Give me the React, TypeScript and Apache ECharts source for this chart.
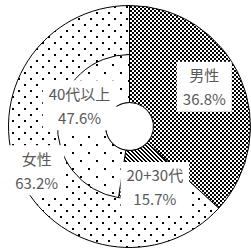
import React, { useEffect, useRef } from "react";
import * as echarts from "echarts";

// ---- data ----
const genders = ["男性", "女性"];
const genderShares = [36.8, 63.2];
const femaleAgeGroups = ["20+30代", "40代以上"];
const femaleAgeShares = [15.7, 47.6];

// label nudges (dx, dy) from the default inside positions
const outerNudges = [
  [5.7, -9.3],
  [-23.7, 13.3],
];
const innerNudges = [
  [0, 0],
  [8.4, 12.4],
  [0.9, -17.3],
];

function makeTile(w: number, h: number, draw: (ctx: CanvasRenderingContext2D) => void) {
  const c = document.createElement("canvas");
  c.width = w;
  c.height = h;
  const ctx = c.getContext("2d")!;
  ctx.fillStyle = "#fff";
  ctx.fillRect(0, 0, w, h);
  ctx.fillStyle = "#000";
  draw(ctx);
  return c;
}

function patterns() {
  const checker = makeTile(4, 4, (ctx) => {
    ctx.fillRect(0, 0, 2, 2);
    ctx.fillRect(2, 2, 2, 2);
  });
  const denseDots = makeTile(12, 12, (ctx) => {
    ctx.fillRect(0, 0, 2, 2);
    ctx.fillRect(6, 6, 2, 2);
  });
  const sparseDots = makeTile(16, 16, (ctx) => {
    ctx.fillRect(0, 0, 2, 2);
    ctx.fillRect(8, 8, 2, 2);
  });
  const stripes = makeTile(4, 4, (ctx) => {
    for (let i = 0; i < 4; i++) {
      ctx.fillRect(i, i, 1, 1);
      ctx.fillRect((i + 1) % 4, i, 1, 1);
    }
  });
  const pat = (c: HTMLCanvasElement) => ({ image: c, repeat: "repeat" as const });
  return {
    男性: pat(checker),
    女性: pat(denseDots),
    "20+30代": pat(stripes),
    "40代以上": pat(sparseDots),
  } as Record<string, any>;
}

export default function App() {
  const ref = useRef<HTMLDivElement>(null);
  useEffect(() => {
    if (!ref.current) return;
    const chart = echarts.init(ref.current, undefined, { renderer: "svg" });
    const fills = patterns();
    const center = [129.5, 126.5];
    const labelStyle = {
      show: true,
      position: "inside" as const,
      formatter: "{b}\n{c}%",
      color: "#595959",
      fontSize: 15,
      fontFamily: "'Noto Sans CJK JP', 'Noto Sans', sans-serif",
      lineHeight: 24,
      backgroundColor: "#ffffff",
      padding: [1, 6],
    };
    const itemBase = { borderColor: "#000", borderWidth: 1 };

    const outerData = genders.map((g, i) => ({
      name: g,
      value: genderShares[i],
      itemStyle: { color: fills[g] },
    }));
    const innerData = [
      {
        name: genders[0],
        value: genderShares[0],
        itemStyle: { color: "transparent", borderWidth: 0 },
        label: { show: false },
      },
      ...femaleAgeGroups.map((g, i) => ({
        name: g,
        value: femaleAgeShares[i],
        itemStyle: { color: fills[g] },
      })),
    ];

    chart.setOption({
      animation: false,
      series: [
        {
          type: "pie",
          silent: true,
          center,
          radius: [24, 121],
          startAngle: 90,
          clockwise: true,
          avoidLabelOverlap: false,
          itemStyle: itemBase,
          label: labelStyle,
          labelLine: { show: false },
          emphasis: { disabled: true },
          labelLayout: (p: any) => ({ dx: outerNudges[p.dataIndex][0], dy: outerNudges[p.dataIndex][1] }),
          data: outerData,
        },
        {
          type: "pie",
          silent: true,
          center,
          radius: [24, 72],
          startAngle: 90,
          clockwise: true,
          avoidLabelOverlap: false,
          itemStyle: itemBase,
          label: labelStyle,
          labelLine: { show: false },
          emphasis: { disabled: true },
          labelLayout: (p: any) => ({ dx: innerNudges[p.dataIndex][0], dy: innerNudges[p.dataIndex][1] }),
          data: innerData,
        },
      ],
    });
    return () => chart.dispose();
  }, []);
  return (
    <>
      <style>{"svg image, svg pattern image { image-rendering: pixelated; }"}</style>
      <div
        ref={ref}
        style={{ position: "absolute", left: 0, top: 0, width: 251, height: 251, background: "#fff" }}
      />
    </>
  );
}
